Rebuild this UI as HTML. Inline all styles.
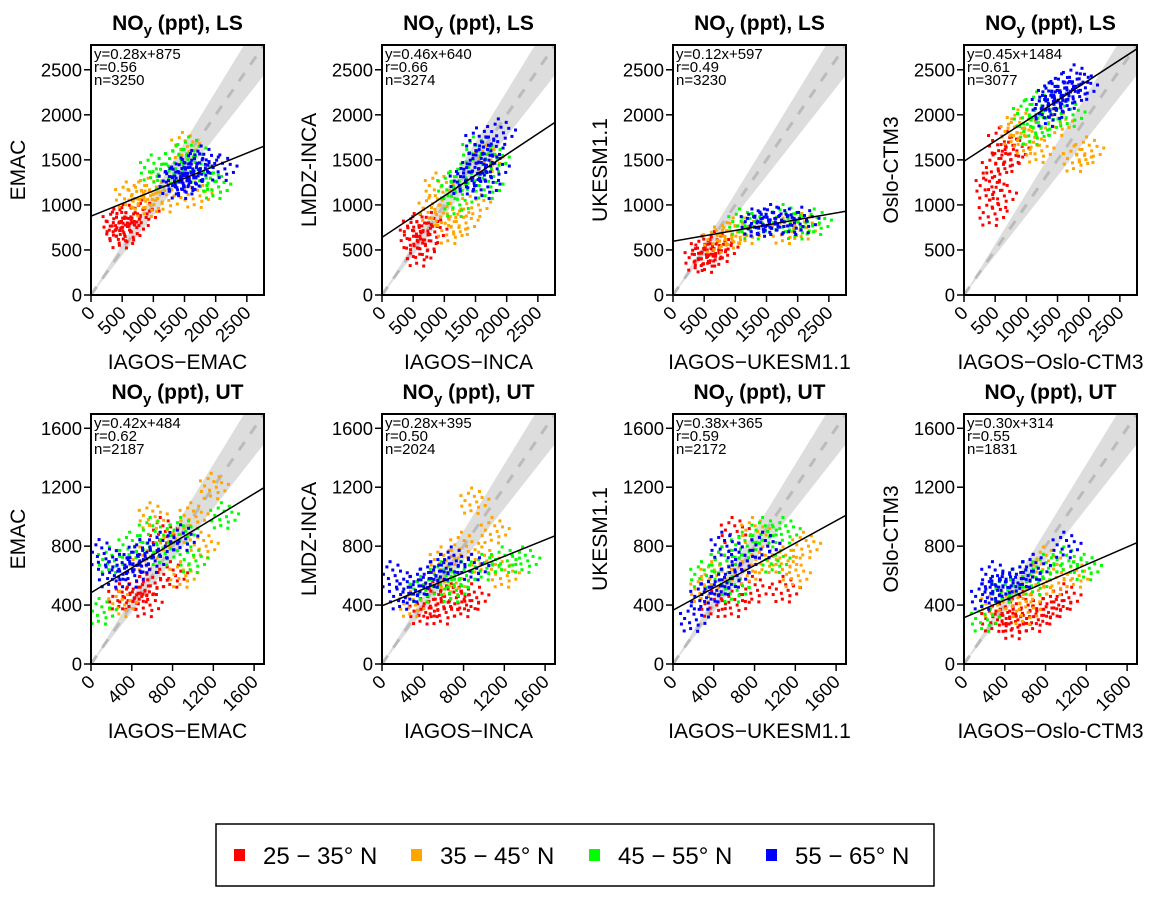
<!DOCTYPE html>
<html><head><meta charset="utf-8"><style>
body{margin:0;background:#fff;width:1166px;height:899px;overflow:hidden}
svg{font-family:"Liberation Sans",Arial,sans-serif}
</style></head><body>
<svg id="chart" width="1166" height="899" xmlns="http://www.w3.org/2000/svg"></svg>
<script>
const panelYLabels=["EMAC","LMDZ-INCA","UKESM1.1","Oslo-CTM3","EMAC","LMDZ-INCA","UKESM1.1","Oslo-CTM3"];
const panelXLabels=["IAGOS-EMAC","IAGOS-INCA","IAGOS-UKESM1.1","IAGOS-Oslo-CTM3","IAGOS-EMAC","IAGOS-INCA","IAGOS-UKESM1.1","IAGOS-Oslo-CTM3"];
const panelLayer=["LS","LS","LS","LS","UT","UT","UT","UT"];
const slopes=[0.28,0.46,0.12,0.45,0.42,0.28,0.38,0.30];
const intercepts=[875,640,597,1484,484,395,365,314];
const rValues=["0.56","0.66","0.49","0.61","0.62","0.50","0.59","0.55"];
const nValues=[3250,3274,3230,3077,2187,2024,2172,1831];
const lsTicks=[0,500,1000,1500,2000,2500];
const utTicks=[0,400,800,1200,1600];
const bandLabels=["25 − 35° N","35 − 45° N","45 − 55° N","55 − 65° N"];
const bandColors=["#ff0000","#ffa500","#00ff00","#0000ff"];
// representative cluster points per panel per band [x,y]
const redPts=[
[[450,750],[550,850],[600,700],[700,900],[500,650],[850,900],[400,800]],
[[500,650],[650,550],[700,800],[600,450],[800,700],[550,750]],
[[400,400],[600,450],[700,550],[500,500],[800,500],[550,380]],
[[400,1200],[500,1400],[600,1100],[700,1500],[600,1700],[800,1600],[450,900]],
[[400,450],[500,500],[600,550],[700,900],[550,400],[800,600],[300,450]],
[[400,350],[500,400],[600,350],[700,450],[800,400],[900,450],[550,500]],
[[400,400],[600,400],[700,700],[800,500],[500,700],[900,800],[1100,500],[600,900]],
[[300,300],[400,350],[500,300],[600,400],[700,300],[800,350],[900,400],[1000,450],[500,250]]];
const orangePts=[
[[800,1100],[900,1000],[1000,1200],[1200,1050],[1700,1100],[2000,1200],[600,1100],[1500,1650]],
[[800,950],[1000,900],[1100,700],[1300,800],[1500,1000],[900,1200],[1700,1500]],
[[900,650],[1000,700],[1200,700],[1800,700],[2100,750],[700,600]],
[[800,1800],[1000,1700],[900,1900],[1200,1600],[1800,1500],[1500,1900],[2000,1600]],
[[300,400],[500,700],[800,850],[1000,1000],[1100,800],[1200,1200],[900,600],[600,1000]],
[[300,400],[600,700],[800,800],[1000,700],[1100,900],[900,1100],[1200,600],[700,550]],
[[400,600],[700,600],[900,700],[1100,700],[1200,600],[800,900],[1300,800],[300,500]],
[[300,400],[500,450],[700,500],[900,550],[1100,600],[600,350],[800,700]]];
const greenPts=[
[[1000,1400],[1200,1300],[1400,1500],[1800,1300],[1600,1600],[2000,1200]],
[[1100,1200],[1300,1300],[1500,1600],[1200,1000],[1800,1500],[1700,1200]],
[[1100,800],[1300,750],[1500,800],[1800,850],[2000,750],[2300,800]],
[[1000,2000],[1200,2100],[1300,1900],[1400,2200],[1700,2000],[1100,1800]],
[[200,700],[400,800],[600,900],[900,900],[1000,700],[700,750],[100,350],[1300,1000]],
[[400,500],[600,600],[800,600],[1000,650],[1200,700],[700,500],[1400,700]],
[[300,600],[500,700],[700,800],[900,900],[1000,700],[600,500],[1100,900]],
[[400,500],[600,600],[800,650],[1000,700],[1200,650],[700,550],[200,300]]];
const bluePts=[
[[1300,1250],[1400,1300],[1500,1350],[1600,1300],[1700,1400],[1450,1200],[1800,1500],[2100,1400],[1550,1250],[1650,1450]],
[[1400,1300],[1500,1400],[1600,1500],[1300,1250],[1700,1600],[1800,1400],[1550,1700],[1900,1800],[1650,1200]],
[[1300,800],[1500,800],[1700,820],[1900,800],[1600,850],[2100,820],[1400,780]],
[[1300,2100],[1400,2200],[1500,2250],[1600,2300],[1700,2200],[1500,2100],[1800,2400],[1350,2000],[1900,2300]],
[[200,600],[300,650],[450,700],[500,750],[600,700],[700,800],[400,600],[100,750],[900,850]],
[[200,450],[300,500],[500,600],[600,650],[700,700],[400,550],[900,650],[100,600]],
[[200,300],[300,450],[400,500],[500,550],[600,600],[700,700],[500,800],[900,800]],
[[200,450],[300,500],[400,520],[500,550],[600,600],[700,650],[300,600],[1000,800]]];
const bandPts=[redPts,orangePts,greenPts,bluePts];

const NS="http://www.w3.org/2000/svg";
const svg=document.getElementById("chart");
function mk(tag,attrs,parent){const e=document.createElementNS(NS,tag);for(const k in attrs)e.setAttribute(k,attrs[k]);(parent||svg).appendChild(e);return e;}
// marker stamp (cloud shape)
const stamp=[];for(let i=0;i<16;i++){const a=i*2.39996,r=4.2*Math.sqrt(i+0.5);stamp.push([r*Math.cos(a),r*Math.sin(a)*0.85]);}
const colX=[91,382,673,964],W=173;
for(let p=0;p<8;p++){
  const isLS=p<4;
  const L=colX[p%4], T=isLS?45:414, B=isLS?295:664;
  const max=isLS?2775:1697, ticks=isLS?lsTicks:utTicks;
  const sx=v=>L+v/max*W, sy=v=>B-v/max*(B-T);
  const g=mk("g",{});
  
  
  const cid="clip"+p;
  const cp=mk("clipPath",{id:cid},g);mk("rect",{x:L,y:T,width:W,height:B-T},cp);
  const inner=mk("g",{"clip-path":"url(#"+cid+")"},g);
  const band=mk("polygon",{points:`${sx(0)},${sy(0)} ${sx(max)},${sy(max*1.13)} ${sx(max)},${sy(max*0.88)}`,fill:"#dddddd"},inner);
  
  
  const dl=mk("line",{x1:sx(0),y1:sy(0),x2:sx(max),y2:sy(max),stroke:"#bbbbbb","stroke-width":3,"stroke-dasharray":"10 10"},inner);
  
  
  for(let b=0;b<4;b++){
    const bg=mk("g",{fill:bandColors[b]},inner);
    
    
    bandPts[b][p].forEach(pt=>{
      const cx=sx(pt[0]),cy=sy(pt[1]);
      stamp.forEach(o=>{
        const r=mk("rect",{x:cx+o[0]-1.5,y:cy+o[1]-1.5,width:3,height:3},bg);
        
        
      });
    });
  }
  const rl=mk("line",{x1:sx(0),y1:sy(intercepts[p]),x2:sx(max),y2:sy(intercepts[p]+slopes[p]*max),stroke:"#000","stroke-width":1.5},inner);
  
  
  const box=mk("rect",{x:L,y:T,width:W,height:B-T,fill:"none",stroke:"#000","stroke-width":2},g);
  
  
  ticks.forEach(t=>{
    mk("line",{x1:L-7,x2:L,y1:sy(t),y2:sy(t),stroke:"#000","stroke-width":1.5},g);
    const yl=mk("text",{x:L-9,y:sy(t)+6.5,"text-anchor":"end","font-size":18.5},g);yl.textContent=t;
    
    
    mk("line",{x1:sx(t),x2:sx(t),y1:B,y2:B+7,stroke:"#000","stroke-width":1.5},g);
    const xl=mk("text",{x:sx(t)+5,y:B+19,"text-anchor":"end","font-size":18.5,transform:`rotate(-45 ${sx(t)+5} ${B+19})`},g);xl.textContent=t;
    
    
  });
  mk("line",{x1:L,x2:sx(ticks[ticks.length-1]),y1:B,y2:B,stroke:"#000","stroke-width":2},g);
  const st=[`y=${slopes[p].toFixed(2)}x+${intercepts[p]}`,`r=${rValues[p]}`,`n=${nValues[p]}`];
  st.forEach((s,i)=>{const t=mk("text",{x:L+3,y:T+14+i*13,"font-size":15},g);t.textContent=s;
    
    });
  const ti=mk("text",{x:L+W/2,y:T-15,"text-anchor":"middle","font-size":21,"font-weight":"bold"},g);
  ti.innerHTML=`NO<tspan font-size="15" dy="5">y</tspan><tspan dy="-5"> (ppt), ${panelLayer[p]}</tspan>`;
  
  
  const yt=mk("text",{x:0,y:0,"text-anchor":"middle","font-size":21,transform:`translate(${L-66},${(T+B)/2}) rotate(-90)`},g);yt.textContent=panelYLabels[p];
  
  
  const xt=mk("text",{x:L+W/2,y:B+74,"text-anchor":"middle","font-size":21},g);xt.textContent=panelXLabels[p].replace("-","−");
  
  
}
const lg=mk("g",{});


mk("rect",{x:216,y:824,width:718,height:62,fill:"none",stroke:"#000","stroke-width":1.5},lg);
const lx=[234,411,589,766];
for(let b=0;b<4;b++){
  const e=mk("g",{},lg);
  
  
  mk("rect",{x:lx[b],y:849,width:11,height:12,fill:bandColors[b]},e);
  const t=mk("text",{x:lx[b]+29,y:864,"font-size":24},e);t.textContent=bandLabels[b];
}
</script>
</body></html>
